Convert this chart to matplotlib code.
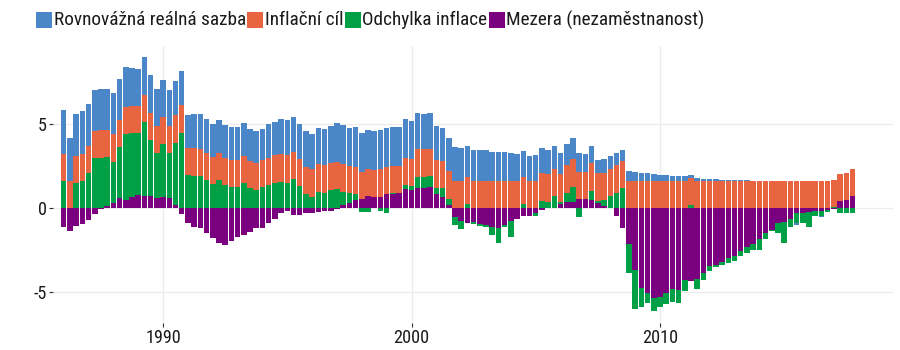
import numpy as np
import pandas as pd
import matplotlib
matplotlib.use("Agg")
import matplotlib.pyplot as plt
from matplotlib.patches import Rectangle
from matplotlib import font_manager

# pick a narrow face if one is installed, else plain Liberation Sans
installed = {f.name for f in font_manager.fontManager.ttflist}
family = "Liberation Sans"
for name in ["Liberation Sans Narrow", "Arial Narrow", "Roboto Condensed", "Open Sans Condensed"]:
    if name in installed:
        family = name
        break
plt.rcParams['font.family'] = [family, 'DejaVu Sans']
plt.rcParams['axes.unicode_minus'] = False

# quarterly data 1986Q1 - 2017Q4
quarters = pd.period_range("1986Q1", "2017Q4", freq="Q")

labels = ["Rovnovážná reálná sazba", "Inflační cíl", "Odchylka inflace", "Mezera (nezaměstnanost)"]
colors = ["#4a86c8", "#e96440", "#00a046", "#7b0080"]

rovnovazna = [
    2.58, 2.54, 2.48, 2.52, 2.50, 2.44, 2.44, 2.46, 2.44, 2.40, 2.34, 2.30, 2.24, 2.24, 2.23, 2.22,
    2.20, 2.16, 2.04, 2.08, 1.98, 2.03, 2.07, 2.03, 1.98, 1.95, 1.94, 1.98, 1.98, 1.98, 1.94, 1.92,
    1.88, 2.00, 2.00, 2.11, 2.08, 2.07, 2.06, 2.14, 2.14, 2.18, 2.16, 2.20, 2.30, 2.32, 2.28, 2.38,
    2.32, 2.32, 2.34, 2.34, 2.32, 2.30, 2.30, 2.28, 2.26, 2.18, 2.09, 2.12, 2.06, 1.98, 2.01, 1.98,
    1.92, 1.85, 1.84, 1.84, 1.84, 1.74, 1.70, 1.70, 1.66, 1.62, 1.55, 1.50, 1.52, 1.49, 1.43, 1.37,
    1.25, 1.25, 1.25, 1.11, 1.10, 1.05, 0.80, 0.82, 0.77, 0.73, 0.65, 0.57, 0.52, 0.48, 0.48, 0.40,
    0.35, 0.35, 0.29, 0.26, 0.26, 0.20, 0.16, 0.12, 0.10, 0.10, 0.06, 0.06, 0.06, 0.06, 0.02, 0.00,
    0.00, 0.00, 0.00, 0.00, 0.00, 0.00, -0.12, 0.00, 0.00, 0.00, -0.08, 0.00, 0.00, 0.00, 0.00, 0.00,
]

inflacni_cil = [
    1.62, 1.62, 1.62, 1.62, 1.62, 1.62, 1.62, 1.62, 1.62, 1.62, 1.62, 1.62, 1.62, 1.62, 1.62, 1.62,
    1.62, 1.62, 1.62, 1.62, 1.62, 1.62, 1.62, 1.62, 1.62, 1.62, 1.62, 1.62, 1.62, 1.62, 1.62, 1.62,
    1.62, 1.62, 1.62, 1.62, 1.62, 1.62, 1.62, 1.62, 1.62, 1.62, 1.62, 1.62, 1.62, 1.62, 1.62, 1.62,
    1.62, 1.62, 1.62, 1.62, 1.62, 1.62, 1.62, 1.62, 1.62, 1.62, 1.62, 1.62, 1.62, 1.62, 1.62, 1.62,
    1.62, 1.62, 1.62, 1.62, 1.62, 1.62, 1.62, 1.62, 1.62, 1.62, 1.62, 1.62, 1.62, 1.62, 1.62, 1.62,
    1.62, 1.62, 1.62, 1.62, 1.62, 1.62, 1.62, 1.62, 1.62, 1.62, 1.62, 1.62, 1.62, 1.62, 1.62, 1.62,
    1.62, 1.62, 1.62, 1.62, 1.62, 1.62, 1.62, 1.62, 1.62, 1.62, 1.62, 1.62, 1.62, 1.62, 1.62, 1.62,
    1.62, 1.62, 1.62, 1.62, 1.62, 1.62, 1.62, 1.62, 1.62, 1.62, 1.62, 1.62, 1.62, 1.62, 1.62, 1.62,
]

odchylka = [
    1.61, 0.00, 1.49, 1.61, 2.06, 2.96, 3.00, 2.90, 2.44, 3.05, 3.92, 3.77, 3.67, 4.37, 3.34, 2.63,
    3.16, 2.65, 3.71, 4.48, 1.96, 1.92, 1.90, 1.67, 1.41, 1.67, 1.37, 1.23, 1.23, 1.47, 1.17, 1.07,
    1.23, 1.37, 1.51, 1.57, 1.51, 1.73, 1.31, 0.81, 0.67, 0.97, 0.91, 1.07, 1.11, 0.82, 0.59, 0.35,
    -0.22, -0.22, 0.00, -0.16, -0.28, 0.05, 0.00, 0.26, 0.24, 0.66, 0.70, 0.67, 0.38, 0.50, 0.38, -0.49,
    -0.50, 0.24, -0.14, -0.12, -0.10, -0.46, -0.89, -0.14, -0.97, 0.00, 0.24, 0.00, -0.14, 0.44, 0.38, 0.71,
    0.12, 0.53, 0.89, -0.56, 0.00, 0.53, 0.16, 0.36, 0.71, 0.91, 1.17, -1.75, -2.32, -1.15, -0.55, -0.79,
    -0.59, -0.63, -0.76, -0.75, -0.65, 0.15, -0.55, -0.40, -0.28, -0.10, -0.20, -0.30, -0.29, -0.30, -0.35, -0.36,
    -0.63, -0.40, -0.05, -0.56, -1.29, -0.48, -0.55, -0.63, -0.93, -0.32, -0.32, -0.10, 0.05, -0.32, -0.32, -0.28,
]

mezera = [
    -1.11, -1.35, -1.07, -0.95, -0.71, -0.36, -0.04, 0.12, 0.32, 0.58, 0.50, 0.67, 0.77, 0.73, 0.71, 0.62,
    0.65, 0.60, 0.18, -0.36, -0.87, -1.15, -1.21, -1.51, -1.81, -2.10, -2.20, -1.96, -1.71, -1.61, -1.41, -1.17,
    -1.21, -0.87, -0.67, -0.28, -0.16, -0.40, -0.40, -0.32, -0.32, -0.24, -0.18, -0.16, -0.08, 0.15, 0.28, 0.48,
    0.52, 0.71, 0.63, 0.67, 0.83, 0.83, 0.87, 1.11, 1.07, 1.21, 1.17, 1.23, 0.83, 0.67, 0.18, -0.52,
    -0.77, -0.91, -0.81, -0.95, -1.01, -1.15, -1.21, -1.01, -0.77, -0.63, -0.46, -0.46, -0.32, -0.12, 0.00, 0.00,
    0.26, 0.38, 0.38, 0.52, 0.52, 0.50, 0.28, 0.12, 0.00, -0.48, -1.17, -2.14, -3.69, -4.76, -5.08, -5.36,
    -5.28, -5.08, -4.82, -4.88, -4.29, -4.33, -4.25, -3.89, -3.45, -3.39, -3.19, -3.00, -2.84, -2.54, -2.35, -2.14,
    -1.87, -1.47, -1.31, -0.91, -0.81, -0.67, -0.32, -0.28, -0.22, -0.16, -0.16, -0.12, -0.05, 0.42, 0.48, 0.71,
]

x = np.array(quarters.year + (quarters.quarter - 1) / 4.0, dtype=float)

fig = plt.figure(figsize=(9, 3.5), dpi=100)
renderer = fig.canvas.get_renderer()

# size the text so the first legend label is as wide as in the reference (~193 px)
probe = fig.text(0, 0, labels[0], fontsize=14.7)
fsize = min(14.7, 14.7 * 193.0 / probe.get_window_extent(renderer).width)
probe.remove()

ax = fig.add_axes([53 / 900, 27 / 350, 840 / 900, 277.3 / 350])

# stack from zero outwards: gap, inflation gap, target, real rate
stack = [(mezera, colors[3]), (odchylka, colors[2]), (inflacni_cil, colors[1]), (rovnovazna, colors[0])]
pos = np.zeros(len(x))
neg = np.zeros(len(x))
for vals, c in stack:
    v = np.array(vals)
    bottom = np.where(v >= 0, pos, neg)
    ax.bar(x, v, width=0.2225, bottom=bottom, color=c, linewidth=0, zorder=2)
    pos = pos + np.clip(v, 0, None)
    neg = neg + np.clip(v, None, 0)

ax.set_xlim(1985.57, 2019.38)
ax.set_ylim(-6.85, 9.66)
ax.set_xticks([1990, 2000, 2010])
ax.set_yticks([-5, 0, 5])
ax.set_yticklabels(["-5", "0", "5"])
ax.grid(color="#ebebeb", linewidth=0.9, zorder=0)
ax.set_axisbelow(True)
for s in ax.spines.values():
    s.set_visible(False)
ax.tick_params(length=3, width=0.8, color="#333333", labelsize=fsize * 0.95,
               labelcolor="#1a1a1a", pad=1.5)

# legend drawn by hand along the top
px = 36.0
for lab, c in zip(labels, colors):
    fig.patches.append(Rectangle((px / 900, (350 - 28) / 350), 16 / 900, 16 / 350,
                                 transform=fig.transFigure, color=c, linewidth=0))
    t = fig.text((px + 17.5) / 900, (350 - 20) / 350, lab, fontsize=fsize,
                 color="#1a1a1a", va="center", ha="left")
    w = t.get_window_extent(renderer).width
    px = px + 17.5 + w + 1.5

fig.savefig("out.png", dpi=100)
